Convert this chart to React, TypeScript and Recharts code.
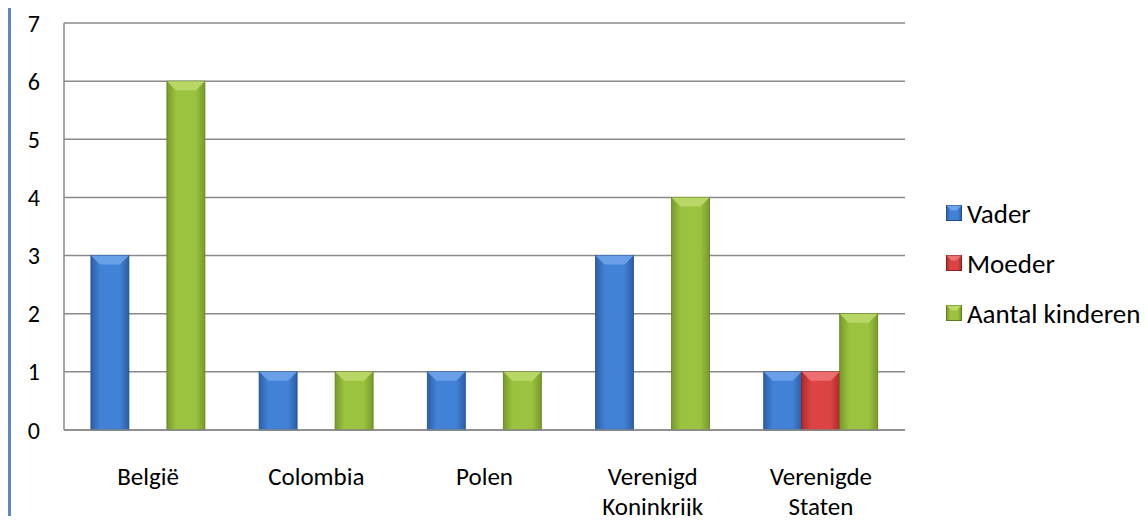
import React from 'react';
import { BarChart, Bar, XAxis, YAxis, CartesianGrid } from 'recharts';

const categories = ['België', 'Colombia', 'Polen', 'Verenigd Koninkrijk', 'Verenigde Staten'];
const vader = [3, 1, 1, 3, 1];
const moeder = [0, 0, 0, 0, 1];
const kinderen = [6, 1, 1, 4, 2];
const yTicks = [0, 1, 2, 3, 4, 5, 6, 7];

const seriesNames = ['Vader', 'Moeder', 'Aantal kinderen'];

const data = categories.map((c, i) => ({
  name: c,
  Vader: vader[i],
  Moeder: moeder[i],
  'Aantal kinderen': kinderen[i],
}));

const FONT = 'Carlito, Calibri, Lato, sans-serif';

const palette: Record<string, { mid: string; edge: string; top: string; dark: string }> = {
  blue: { mid: '#4282d6', edge: '#2c5fa6', top: '#6ea3ea', dark: '#1f4f8f' },
  red: { mid: '#dc4444', edge: '#b02a2a', top: '#ee7474', dark: '#8f2020' },
  green: { mid: '#9cc33f', edge: '#779b2a', top: '#bcd96a', dark: '#5f7d20' },
};

const BevelBar = (props: any) => {
  const { x, y, width, height, kind } = props;
  if (!height || height <= 0) return null;
  const p = palette[kind];
  const b = Math.min(9, height / 2, width / 3);
  return (
    <g>
      <rect x={x} y={y} width={width} height={height} fill={`url(#grad-${kind})`} stroke={p.dark} strokeWidth={0.8} />
      <polygon
        points={`${x},${y} ${x + width},${y} ${x + width - b},${y + b} ${x + b},${y + b}`}
        fill={p.top}
        opacity={0.9}
      />
    </g>
  );
};

const XTick = (props: any) => {
  const { x, y, payload } = props;
  const parts = String(payload.value).split(' ');
  return (
    <g transform={`translate(${x},${y})`}>
      {parts.map((t, i) => (
        <text key={i} x={0} y={0} dy={47 + i * 30} textAnchor="middle" fill="#000" fontSize={25} fontFamily={FONT}>
          {t}
        </text>
      ))}
    </g>
  );
};

const legendKinds = ['blue', 'red', 'green'];

const LegendBox = () => (
  <div style={{ position: 'absolute', left: 946, top: 188, fontFamily: FONT, fontSize: 27, color: '#000' }}>
    {seriesNames.map((n, i) => (
      <div key={n} style={{ display: 'flex', alignItems: 'center', height: 50, whiteSpace: 'nowrap' }}>
        <svg width={16} height={16} style={{ marginRight: 5 }}>
          <rect x={0.5} y={0.5} width={15} height={15} fill={`url(#grad-${legendKinds[i]})`} stroke={palette[legendKinds[i]].dark} />
          <polygon points="0.5,0.5 15.5,0.5 10.5,5.5 5.5,5.5" fill={palette[legendKinds[i]].top} />
        </svg>
        <span>{n}</span>
      </div>
    ))}
  </div>
);

export default function App() {
  return (
    <div style={{ position: 'relative', width: 1148, height: 524, margin: -8, background: '#fff' }}>
      <div style={{ position: 'absolute', left: 5, top: 0, width: 6, height: 524, background: '#5b87c6' }} />
      <BarChart
        width={1148}
        height={524}
        data={data}
        margin={{ top: 23, right: 243, bottom: 0, left: 0 }}
        barCategoryGap="16%"
        barGap={0}
      >
        <defs>
          {Object.keys(palette).map((k) => (
            <linearGradient key={k} id={`grad-${k}`} x1="0" y1="0" x2="1" y2="0">
              <stop offset="0%" stopColor={palette[k].edge} />
              <stop offset="25%" stopColor={palette[k].mid} />
              <stop offset="75%" stopColor={palette[k].mid} />
              <stop offset="100%" stopColor={palette[k].edge} />
            </linearGradient>
          ))}
        </defs>
        <CartesianGrid vertical={false} stroke="#8a8a8a" strokeWidth={1.5} />
        <XAxis
          dataKey="name"
          height={94}
          tickLine={false}
          axisLine={{ stroke: '#8a8a8a', strokeWidth: 1.5 }}
          tick={<XTick />}
          interval={0}
        />
        <YAxis
          width={64}
          domain={[0, 7]}
          ticks={yTicks}
          interval={0}
          tickLine={false}
          tickSize={6}
          tickMargin={18}
          axisLine={{ stroke: '#8a8a8a', strokeWidth: 1.5 }}
          tick={{ fill: '#000', fontSize: 24, fontFamily: FONT }}
        />
        <Bar dataKey="Vader" isAnimationActive={false} shape={(p: any) => <BevelBar {...p} kind="blue" />} />
        <Bar dataKey="Moeder" isAnimationActive={false} shape={(p: any) => <BevelBar {...p} kind="red" />} />
        <Bar dataKey="Aantal kinderen" isAnimationActive={false} shape={(p: any) => <BevelBar {...p} kind="green" />} />
      </BarChart>
      <LegendBox />
    </div>
  );
}
